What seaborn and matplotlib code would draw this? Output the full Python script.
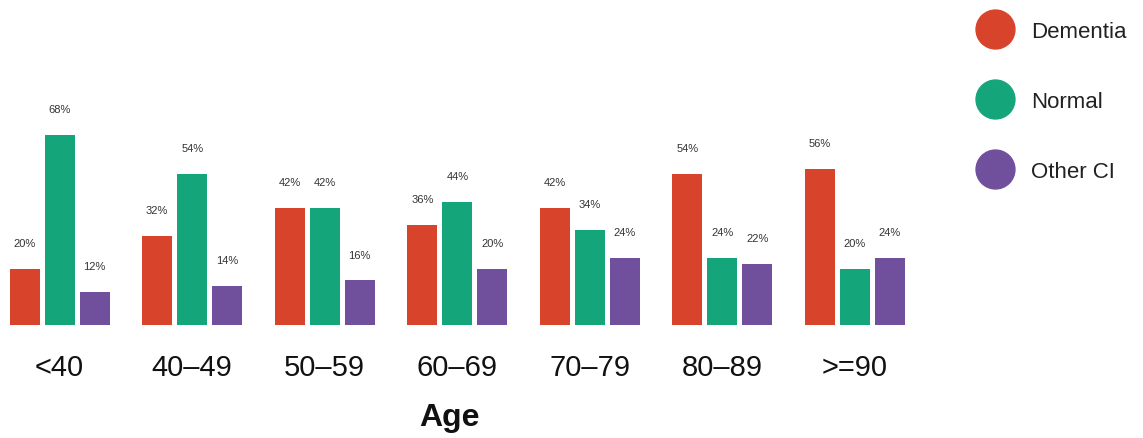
import matplotlib
matplotlib.use("Agg")
import matplotlib.pyplot as plt
from matplotlib.lines import Line2D
import seaborn as sns
import pandas as pd

# datos
age_groups = ["<40", "40–49", "50–59", "60–69", "70–79", "80–89", ">=90"]
dementia = [20, 32, 42, 36, 42, 54, 56]
normal = [68, 54, 42, 44, 34, 24, 20]
other_ci = [12, 14, 16, 20, 24, 22, 24]
series = ["Dementia", "Normal", "Other CI"]
colors = ["#D8432C", "#14A67A", "#70509C"]

df = pd.DataFrame({
    "age": age_groups * 3,
    "group": [s for s in series for _ in age_groups],
    "pct": dementia + normal + other_ci,
})

sns.set_style("white")
plt.rcParams["font.family"] = ["Liberation Sans", "DejaVu Sans"]

fig = plt.figure(figsize=(11.43, 4.39), dpi=100)
ax = fig.add_axes([0.0, 0.2574, 0.806, 0.515])

sns.barplot(
    data=df, x="age", y="pct", hue="group", hue_order=series,
    palette=colors, width=0.792, gap=0.14, legend=False, ax=ax,
    saturation=1, linewidth=0
)

for cont in ax.containers:
    ax.bar_label(cont, fmt="%d%%", padding=15, fontsize=8, color="#333333")

ax.set_xlim(-0.45, 6.5)
ax.set_ylim(0, 81)
ax.set_yticks([])
ax.set_xlabel("")
ax.set_ylabel("")
ax.tick_params(axis="x", length=0, pad=20, labelsize=21, labelcolor="#111111")
sns.despine(ax=ax, left=True, bottom=True)

fig.text(449 / 1143, 1 - 418 / 439, "Age", ha="center", va="center",
         fontsize=23, fontweight="bold", color="#111111")

handles = [Line2D([0], [0], marker="o", linestyle="", markersize=28,
                  markerfacecolor=c, markeredgecolor=c) for c in colors]
fig.legend(handles, series, loc="upper left", bbox_to_anchor=(0.834, 0.995),
           frameon=False, fontsize=16, labelspacing=2.2, handletextpad=0.6,
           labelcolor="#222222")

fig.savefig("out.png", dpi=100, facecolor="white")
